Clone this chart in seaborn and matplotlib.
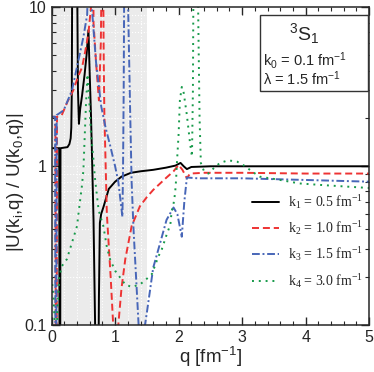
import matplotlib
matplotlib.use("Agg")
import matplotlib.pyplot as plt
import seaborn as sns
from matplotlib.patches import Rectangle
from matplotlib.ticker import MultipleLocator, LogLocator, FuncFormatter, NullFormatter

# values (ratio |U(k_i,q)/U(k_0,q)|)
q_k1 = [0.0, 0.12, 0.126, 0.134, 0.14, 0.25, 0.28, 0.30, 0.31, 0.318, 0.325,
        0.40, 0.415, 0.43, 0.45, 0.48, 0.52, 0.55, 0.58, 0.60, 0.62, 0.64, 0.66,
        0.685, 0.695, 0.73, 0.745, 0.76, 0.78, 0.82, 0.90, 1.00, 1.10, 1.25, 1.40,
        1.60, 1.80, 1.95, 2.03, 2.08, 2.13, 2.20, 2.50, 3.0, 4.0, 5.0]
u_k1 = [1.3, 1.3, 0.02, 0.02, 1.3, 1.32, 1.38, 1.5, 1.75, 3.0, 20,
        20, 3.0, 1.85, 2.3, 2.8, 3.8, 5.0, 7.2, 3.8, 2.1, 1.0, 0.46,
        0.1, 0.02, 0.02, 0.15, 0.44, 0.5, 0.56, 0.72, 0.80, 0.86, 0.91, 0.93,
        0.95, 0.98, 1.01, 1.05, 1.0, 0.96, 0.99, 1.0, 1.0, 1.0, 1.0]

q_k2 = [0.0, 0.06, 0.068, 0.078, 0.085, 0.16, 0.25, 0.34, 0.42, 0.48, 0.53,
        0.58, 0.62, 0.63, 0.655, 0.66, 0.70, 0.745, 0.775, 0.79, 0.81, 0.82,
        0.83, 0.87, 0.93, 0.97, 0.99, 1.03, 1.05, 1.10, 1.16, 1.26, 1.39, 1.50,
        1.60, 1.81, 1.92, 2.00, 2.06, 2.13, 2.18, 2.40, 3.0, 4.0, 5.0]
u_k2 = [2.05, 2.05, 0.02, 0.02, 2.05, 2.1, 2.55, 3.0, 3.7, 4.2, 5.3,
        6.9, 10, 20, 20, 8, 4.5, 2.6, 6, 20, 20, 5,
        2.2, 0.5, 0.2, 0.1, 0.02, 0.02, 0.1, 0.17, 0.26, 0.42, 0.56, 0.64,
        0.71, 0.85, 0.93, 1.02, 0.95, 0.84, 0.9, 0.91, 0.91, 0.90, 0.90]

q_k3 = [0.0, 0.055, 0.062, 0.072, 0.08, 0.19, 0.32, 0.42, 0.50, 0.56, 0.58,
        0.60, 0.633, 0.70, 0.78, 0.85, 0.92, 1.00, 1.05, 1.105, 1.115, 1.125,
        1.135, 1.145, 1.20, 1.205, 1.235, 1.26, 1.29, 1.33, 1.37, 1.38, 1.45,
        1.47, 1.50, 1.55, 1.60, 1.71, 1.81, 1.92, 1.98, 2.05, 2.09, 2.13, 2.30,
        3.0, 4.0, 5.0]
u_k3 = [2.05, 2.05, 0.02, 0.02, 2.1, 2.25, 3.0, 4.6, 6.5, 9.0, 20,
        20, 10, 4.5, 2.4, 1.75, 1.36, 1.0, 0.8, 0.52, 0.48, 1.0,
        3.0, 20, 20, 10, 2.4, 0.8, 0.4, 0.2, 0.1, 0.02, 0.02,
        0.1, 0.12, 0.166, 0.23, 0.33, 0.46, 0.55, 0.50, 0.36, 0.6, 0.85, 0.84,
        0.84, 0.82, 0.80]

q_k4 = [0.0, 0.03, 0.05, 0.06, 0.075, 0.09, 0.12, 0.16, 0.24, 0.32, 0.40,
        0.43, 0.475, 0.50, 0.52, 0.54, 0.565, 0.585, 0.60, 0.62, 0.66, 0.68,
        0.74, 0.815, 0.87, 0.92, 1.00, 1.16, 1.26, 1.39, 1.50, 1.58, 1.68, 1.735,
        1.81, 1.87, 1.89, 1.92, 1.945, 1.96, 1.97, 2.00, 2.02, 2.05, 2.08, 2.13,
        2.18, 2.21, 2.225, 2.235, 2.30, 2.31, 2.33, 2.35, 2.40, 2.47, 2.55, 2.65,
        2.78, 2.92, 3.05, 3.15, 3.28, 3.60, 3.90, 4.30, 5.0]
u_k4 = [0.2, 0.15, 0.1, 0.05, 0.05, 0.12, 0.2, 0.235, 0.26, 0.33, 0.42,
        0.53, 0.74, 0.94, 1.5, 2.4, 3.8, 2.9, 2.3, 1.6, 1.09, 0.86,
        0.53, 0.42, 0.31, 0.26, 0.22, 0.18, 0.174, 0.18, 0.196, 0.21, 0.27, 0.30,
        0.37, 0.43, 0.52, 0.58, 0.68, 0.82, 1.0, 1.6, 2.6, 3.16, 2.9, 2.1,
        1.4, 1.15, 3.0, 20, 20, 8, 2.0, 1.05, 0.93, 0.90, 0.97, 1.05,
        1.09, 1.07, 1.0, 0.93, 0.86, 0.82, 0.78, 0.76, 0.73]

labels = ["k$_1$ = 0.5 fm$^{-1}$", "k$_2$ = 1.0 fm$^{-1}$",
          "k$_3$ = 1.5 fm$^{-1}$", "k$_4$ = 3.0 fm$^{-1}$"]
colors = ["black", "#ee3333", "#4766b8", "#179a4a"]
styles = ["-", (0, (3.6, 2.0)), (0, (4.0, 1.4, 1.0, 1.4)), (0, (1.0, 2.5))]

sns.set_style("ticks")
plt.rcParams['font.family'] = ['Liberation Sans', 'DejaVu Sans']
plt.rcParams['mathtext.default'] = 'regular'

fig, ax = plt.subplots(figsize=(3.74, 3.72), dpi=100)
fig.subplots_adjust(left=0.138, right=0.987, bottom=0.126, top=0.980)

ax.set_yscale('log')
ax.axvspan(0, 1.5, color='#ebebeb', lw=0, zorder=0)
ax.grid(True, which='both', color='white', linestyle=':', linewidth=0.8)
ax.set_axisbelow(True)

series = [(q_k1, u_k1), (q_k2, u_k2), (q_k3, u_k3), (q_k4, u_k4)]
for (q, u), col, ls, lab in zip(series, colors, styles, labels):
    sns.lineplot(x=q, y=u, color=col, linestyle=ls, linewidth=1.4,
                 dash_capstyle='butt', label=lab, estimator=None, sort=False, ax=ax)

ax.set_xlim(0, 5)
ax.set_ylim(0.1, 10)

ax.xaxis.set_major_locator(MultipleLocator(1))
ax.xaxis.set_minor_locator(MultipleLocator(0.2))
ax.yaxis.set_major_locator(LogLocator(base=10))
ax.yaxis.set_minor_locator(LogLocator(base=10, subs=range(2, 10)))
ax.yaxis.set_major_formatter(FuncFormatter(lambda v, _: f'{v:g}'))
ax.yaxis.set_minor_formatter(NullFormatter())
ax.tick_params(which='both', direction='in', top=True, right=True, labelsize=11.5)
ax.tick_params(which='major', length=6, width=1)
ax.tick_params(which='minor', length=3, width=0.8)
for s in ax.spines.values():
    s.set_linewidth(1.1)

ax.set_xlabel("q [fm$^{-1}$]", fontsize=13.5, labelpad=0)
ax.set_ylabel("|U(k$_i$,q) / U(k$_0$,q)|", fontsize=13.5)
ax.yaxis.set_label_coords(-0.08, 0.45)

# channel / parameter box
ax.add_patch(Rectangle((0.655, 0.737), 0.34, 0.239, transform=ax.transAxes,
                       facecolor='white', edgecolor='#333333', lw=1, zorder=5))
ax.text(0.795, 0.917, "$^{3}$S$_{1}$", transform=ax.transAxes, fontsize=14,
        ha='center', va='center', zorder=6)
ax.text(0.666, 0.834, "k$_0$ = 0.1 fm$^{-1}$", transform=ax.transAxes, fontsize=10.5,
        ha='left', va='center', zorder=6)
ax.text(0.666, 0.777, "λ = 1.5 fm$^{-1}$", transform=ax.transAxes, fontsize=10.5,
        ha='left', va='center', zorder=6)

ax.legend(loc='upper left', bbox_to_anchor=(0.631, 0.417), frameon=False,
          prop={'family': 'Liberation Serif', 'size': 10}, handlelength=1.95,
          handletextpad=0.65, labelspacing=0.6, borderpad=0, borderaxespad=0)

fig.savefig("out.png", dpi=100)
